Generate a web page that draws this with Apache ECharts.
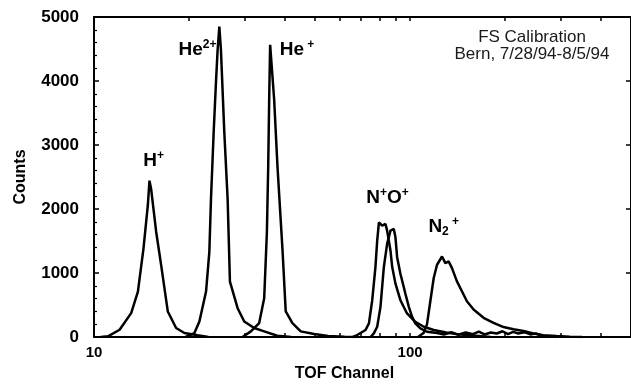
<!DOCTYPE html>
<html>
<head>
<meta charset="utf-8">
<script src="https://cdn.jsdelivr.net/npm/echarts@6/dist/echarts.min.js"></script>
<style>
  html, body { margin: 0; padding: 0; background: #fff; }
  #chart { width: 631px; height: 387px; }
</style>
</head>
<body>
<div id="chart"></div>
<script>
// TOF channel / counts pairs, one trace per ion
const hPlus = [[10.5, 0], [11.07, 10], [12.05, 113], [13.11, 373], [13.77, 710], [14.34, 1382],
  [14.8, 2055], [14.98, 2443], [15.16, 2314], [15.73, 1641], [16.31, 1123], [17.12, 399],
  [18.19, 140], [19.32, 62], [21.28, 26], [23, 0]];
const he2Plus = [[19.5, 0], [20.78, 62], [21.55, 243], [22.62, 710], [23.17, 1331], [23.45, 2159],
  [23.91, 3195], [24.31, 3971], [24.61, 4488], [24.92, 4850], [25.21, 4488], [25.84, 3195],
  [26.47, 2159], [26.92, 865], [28.47, 450], [29.88, 243], [32.13, 140], [34.55, 88], [38, 20], [42, 0]];
const hePlus = [[29.5, 0], [31.36, 88], [33.31, 217], [34.55, 606], [35.24, 1641], [35.58, 2676],
  [35.83, 3712], [36.08, 4566], [36.43, 4540], [37.15, 3712], [38.05, 2676], [39.46, 1382],
  [40.42, 399], [42.44, 217], [45.08, 88], [49.7, 47], [55, 15], [62, 5], [68, 0]];
const nPlus = [[66, 0], [68.05, 31], [72.3, 109], [74.1, 213], [75.9, 575], [77.7, 1092], [78.7, 1506],
  [79.7, 1791], [81.6, 1739], [83.6, 1766], [84.6, 1662], [86.7, 1351], [87.8, 1092], [89.9, 834],
  [93.2, 575], [97.8, 368], [103.9, 238], [110.5, 160], [118.8, 109], [130, 70], [140, 45],
  [150, 30], [165, 15], [180, 0]];
const oPlus = [[75, 0], [76.8, 57], [78.7, 160], [80.6, 471], [82.6, 1092], [84.6, 1455], [86.7, 1662],
  [88.8, 1688], [89.9, 1558], [91.0, 1247], [93.2, 989], [95.5, 781], [96.6, 679], [99.1, 471],
  [101.5, 315], [103.9, 213], [107.8, 135], [113.1, 82], [121.7, 62], [128, 40], [135, 75],
  [142, 35], [150, 70], [158, 45], [165, 85], [172, 40], [180, 70], [188, 55], [196, 90],
  [204, 45], [212, 80], [220, 55], [230, 75], [240, 40], [250, 55], [262, 20], [275, 8], [290, 0]];
const n2Plus = [[106, 0], [110.5, 67], [113.1, 197], [115.9, 559], [118.8, 921], [121.7, 1129],
  [126.2, 1258], [129.3, 1154], [132.5, 1180], [135.7, 1076], [140.7, 870], [145.9, 714],
  [151.3, 559], [158.8, 430], [170.8, 300], [183.7, 222], [197.5, 155], [212.4, 120],
  [228.5, 93], [245.6, 54], [264.1, 26], [290.9, 15], [320, 5], [350, 0]];

const traces = [hPlus, he2Plus, hePlus, nPlus, oPlus, n2Plus];

// peak labels, placed in data space (centre of each label)
const peakLabelX = [15.45, 21.25, 43.9, 84.9, 127.8];
const peakLabelY = [2749, 4488, 4488, 2174, 1724];
const peakLabelText = [
  '{b|H}{sup|+}',
  '{b|He}{sup|2+}',
  '{b|He}{sup| +}',
  '{b|N}{sup|+}{b|O}{sup|+}',
  '{b|N}{sub|2}{sup| +}',
];

const xLabelValues = [10, 100];
const xTickValues = [20, 30, 40, 50, 60, 70, 80, 90, 100, 200, 300, 400];

const noteLines = ['FS Calibration', 'Bern, 7/28/94-8/5/94'];

const FONT = '"Liberation Sans", Arial, Helvetica, sans-serif';

const chart = echarts.init(document.getElementById('chart'), null, { renderer: 'canvas' });

const xBase = {
  type: 'log',
  logBase: 10,
  min: 10,
  max: 500,
  gridIndex: 0,
  splitLine: { show: false },
  axisLine: { show: true, onZero: false, lineStyle: { color: '#000', width: 2 } },
  axisTick: {
    show: true,
    inside: true,
    length: 4,
    customValues: xTickValues,
    lineStyle: { color: '#000', width: 1.5 },
  },
  minorTick: { show: false },
};

const yBase = {
  type: 'value',
  min: 0,
  max: 5000,
  interval: 1000,
  splitLine: { show: false },
  axisLine: { show: true, onZero: false, lineStyle: { color: '#000', width: 2 } },
  axisTick: { show: true, inside: true, length: 5, lineStyle: { color: '#000', width: 1.5 } },
};

const option = {
  animation: false,
  backgroundColor: '#fff',
  grid: { left: 94, top: 17, width: 540, height: 322 },
  xAxis: [
    Object.assign({}, xBase, {
      position: 'bottom',
      name: 'TOF Channel',
      nameLocation: 'middle',
      nameGap: 29,
      nameTextStyle: { color: '#000', fontFamily: FONT, fontWeight: 'bold', fontSize: 16, padding: [0, 36, 0, 0] },
      axisLabel: {
        customValues: xLabelValues,
        margin: 8,
        color: '#000',
        fontFamily: FONT,
        fontWeight: 'bold',
        fontSize: 15,
      },
    }),
    Object.assign({}, xBase, {
      position: 'top',
      axisLabel: { show: false },
    }),
  ],
  yAxis: [
    Object.assign({}, yBase, {
      position: 'left',
      name: 'Counts',
      nameLocation: 'middle',
      nameGap: 65,
      nameTextStyle: { color: '#000', fontFamily: FONT, fontWeight: 'bold', fontSize: 16 },
      minorTick: { show: true, splitNumber: 5, length: 3, lineStyle: { color: '#000', width: 1.2 } },
      axisLabel: { margin: 15, color: '#000', fontFamily: FONT, fontWeight: 'bold', fontSize: 17, formatter: (v) => String(v) },
    }),
    Object.assign({}, yBase, {
      position: 'right',
      axisLabel: { show: false },
    }),
  ],
  graphic: noteLines.map((t, i) => ({
    type: 'text',
    x: 532,
    y: 29 + i * 17,
    style: {
      text: t,
      fill: '#1a1a1a',
      font: '17px ' + FONT,
      align: 'center',
    },
  })),
  series: traces.map((d) => ({
    type: 'line',
    data: d,
    xAxisIndex: 0,
    yAxisIndex: 0,
    showSymbol: false,
    symbol: 'none',
    lineStyle: { color: '#000', width: 2.5 },
    z: 3,
  })).concat([{
    type: 'scatter',
    xAxisIndex: 0,
    yAxisIndex: 0,
    symbolSize: 0,
    itemStyle: { color: '#000', opacity: 1 },
    data: peakLabelX.map((x, i) => [x, peakLabelY[i]]),
    label: {
      show: true,
      position: 'inside',
      color: '#000',
      textBorderWidth: 0,
      formatter: (p) => peakLabelText[p.dataIndex],
      rich: {
        b: { fontFamily: FONT, fontWeight: 'bold', fontSize: 19, color: '#000', lineHeight: 22, textBorderWidth: 0 },
        sup: { fontFamily: FONT, fontWeight: 'bold', fontSize: 12, color: '#000', lineHeight: 12, verticalAlign: 'top', textBorderWidth: 0 },
        sub: { fontFamily: FONT, fontWeight: 'bold', fontSize: 12, color: '#000', lineHeight: 12, verticalAlign: 'bottom', textBorderWidth: 0 },
      },
    },
    z: 5,
  }]),
};

chart.setOption(option);
</script>
</body>
</html>
